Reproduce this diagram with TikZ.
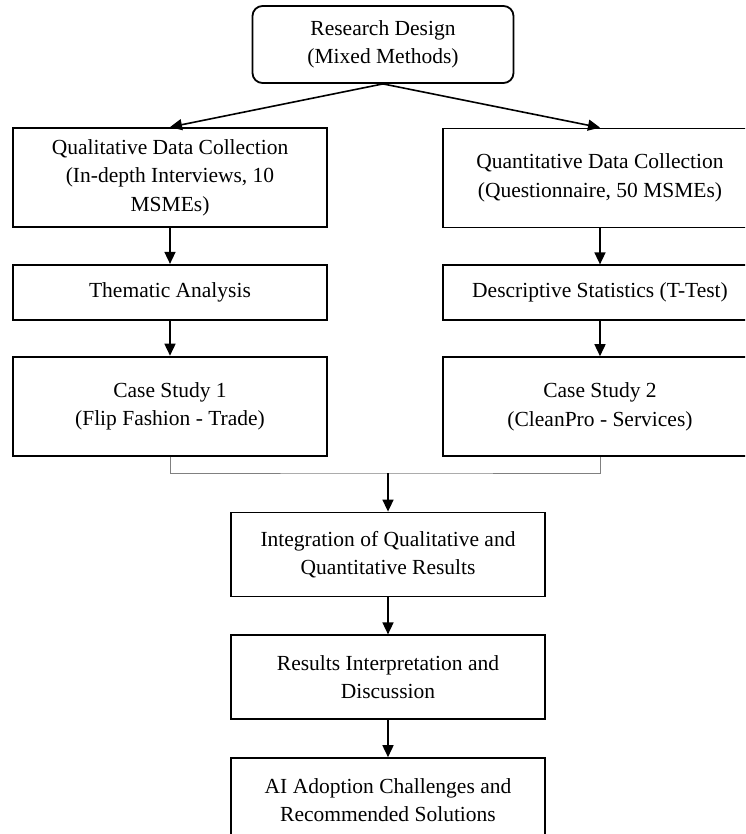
\documentclass[tikz,border=0pt]{standalone}
\usepackage{fontspec}
\setmainfont{Liberation Serif}
\usetikzlibrary{positioning, arrows.meta}

\tikzset{
  stepbox/.style={draw, line width=1.8pt, align=center, inner sep=0pt,
    minimum width=314pt, font=\fontsize{21.5}{28.5}\selectfont},
  tallbox/.style={stepbox, minimum height=99pt},
  flatbox/.style={stepbox, minimum height=55pt},
  midbox/.style={stepbox, minimum height=84pt},
  startbox/.style={stepbox, rounded corners=10pt, minimum width=261pt, minimum height=77pt},
  link/.style={->, line width=1.6pt},
  mergeline/.style={draw=black!50, line width=0.9pt}
}

\begin{document}
\begin{tikzpicture}[x=1pt, y=-1pt, node distance=36pt, >={Triangle[length=12pt,width=11pt]}]
                \useasboundingbox (0,0) rectangle (745,834);
                \clip (0,0) rectangle (745,834);
                % Nodes
                \node[startbox] (Design) at (383,44.5) {Research Design\\(Mixed Methods)};

                \node[tallbox] (QualCollect) at (170,177.5) {Qualitative Data Collection\\(In-depth Interviews, 10\\MSMEs)};
                \node[flatbox, below=of QualCollect] (Thematic) {Thematic Analysis};
                \node[tallbox, below=35pt of Thematic] (CaseOne) {Case Study 1\\(Flip Fashion - Trade)};

                \node[tallbox] (QuantCollect) at (600,178) {Quantitative Data Collection\\(Questionnaire, 50 MSMEs)};
                \node[flatbox, below=of QuantCollect] (Descriptive) {Descriptive Statistics (T-Test)};
                \node[tallbox, below=35pt of Descriptive] (CaseTwo) {Case Study 2\\(CleanPro - Services)};

                \coordinate (Merge) at (388,473);
                \node[midbox] (Integration) at (388,554.5) {Integration of Qualitative and\\Quantitative Results};
                \node[midbox, below=37pt of Integration] (Interpretation) {Results Interpretation and\\Discussion};
                \node[midbox, below=37pt of Interpretation] (Solutions) {AI Adoption Challenges and\\Recommended Solutions};

                % Arrows
                \draw[link] (Design.south) -- (QualCollect.north);
                \draw[link] (Design.south) -- (QuantCollect.north);

                \draw[link] (QualCollect) -- (Thematic);
                \draw[link] (Thematic) -- (CaseOne);

                \draw[link] (QuantCollect) -- (Descriptive);
                \draw[link] (Descriptive) -- (CaseTwo);

                \draw[mergeline] (CaseOne.south) |- (Merge) -| (CaseTwo.south);
                \draw[link] (Merge) -- (Integration);
                \draw[link] (Integration) -- (Interpretation);
                \draw[link] (Interpretation) -- (Solutions);
              \end{tikzpicture}
\end{document}
